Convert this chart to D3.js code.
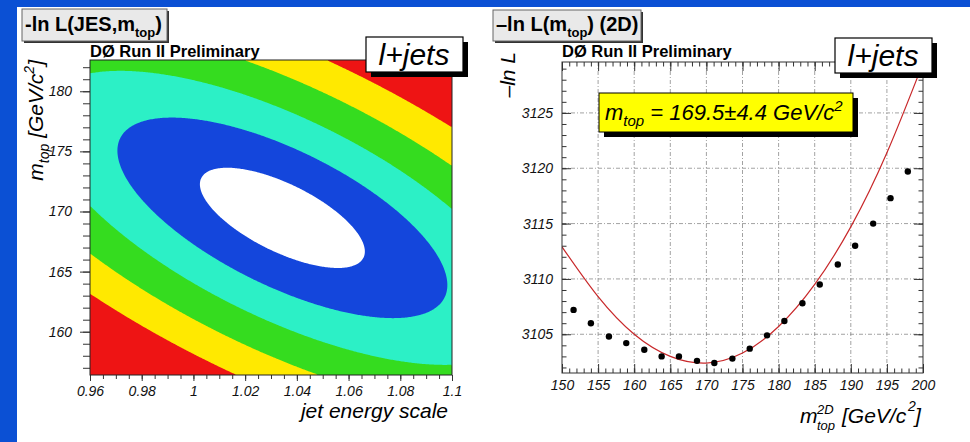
<!DOCTYPE html>
<html>
<head>
<meta charset="utf-8">
<script src="https://cdn.jsdelivr.net/npm/d3@7"></script>
<style>
body { margin: 0; background: #fff; }
svg { display: block; font-family: "Liberation Sans", Arial, sans-serif; }
.tk text { font-style: italic; font-size: 14px; font-family: "Liberation Sans", Arial, sans-serif; fill: #111; }
</style>
</head>
<body>
<script>
// ---- left panel: -ln L(JES, mtop) surface, parameters
const jesDomain = [0.96, 1.1];
const mtopDomain = [156.4, 182.6];
const jesTicks = [0.96, 0.98, 1, 1.02, 1.04, 1.06, 1.08, 1.1];
const mtopTicks = [160, 165, 170, 175, 180];
const surfCenter = [1.0344, 169.47];   // JES, mtop at the minimum
const surfSigma = [0.0319, 4.17];
const surfRho = -0.67;
const levels = [0.5, 2.0, 4.3, 7.4, 11.3];
const levelColors = ["#1446dc", "#2cf0c6", "#35dc1f", "#ffe900", "#ee1414"];

// ---- right panel: -ln L vs mtop(2D)
const massDomain = [150, 200];
const nllDomain = [3101.5, 3129.6];
const massTicks = [150, 155, 160, 165, 170, 175, 180, 185, 190, 195, 200];
const nllTicks = [3105, 3110, 3115, 3120, 3125];
const massPoints = [151.6, 154.0, 156.5, 158.9, 161.4, 163.8, 166.2, 168.7, 171.1, 173.6,
                    176.0, 178.4, 180.8, 183.3, 185.7, 188.2, 190.6, 193.1, 195.5, 197.9];
const nllPoints = [3107.2, 3106.0, 3104.8, 3104.2, 3103.6, 3103.0, 3103.0, 3102.6, 3102.4, 3102.8,
                   3103.7, 3104.9, 3106.2, 3107.8, 3109.5, 3111.3, 3113.0, 3115.0, 3117.3, 3119.7];
// fitted parabola, read at every 5 GeV
const fitMass = [150, 155, 160, 165, 170, 175, 180, 185, 190, 195, 200];
const fitNll = [3112.9, 3108.4, 3105.0, 3103.0, 3102.4, 3103.3, 3105.7, 3109.5, 3114.7, 3121.4, 3129.5];

const W = 970, H = 442;
const svg = d3.select("body").append("svg").attr("width", W).attr("height", H);

// slide background
svg.append("rect").attr("width", W).attr("height", H).attr("fill", "#fff");
svg.append("rect").attr("width", W).attr("height", 7).attr("fill", "#0b50d4");
svg.append("rect").attr("width", 17).attr("height", H).attr("fill", "#0b50d4");

function titleBox(x, y, w, h) {
    svg.append("rect").attr("x", x + 2).attr("y", y + 2).attr("width", w).attr("height", h).attr("fill", "#333");
    svg.append("rect").attr("x", x).attr("y", y).attr("width", w).attr("height", h)
        .attr("fill", "#e9e9e9").attr("stroke", "#666").attr("stroke-width", 1);
}
function jetsBox(x, y) {
    svg.append("rect").attr("x", x + 5).attr("y", y + 5).attr("width", 97).attr("height", 35).attr("fill", "#000");
    svg.append("rect").attr("x", x).attr("y", y).attr("width", 97).attr("height", 35)
        .attr("fill", "#fff").attr("stroke", "#000").attr("stroke-width", 1.2);
    svg.append("text").attr("x", x + 48).attr("y", y + 28).attr("text-anchor", "middle")
        .attr("font-size", 30).attr("font-style", "italic").text("l+jets");
}

// ================= left panel =================
const L = {left: 90, right: 452, top: 60, bottom: 375};
const xJ = d3.scaleLinear().domain(jesDomain).range([L.left, L.right]);
const yM = d3.scaleLinear().domain(mtopDomain).range([L.bottom, L.top]);

// surface on a grid, contoured by d3
const nx = 300, ny = 260;
const grid = new Array(nx * ny);
for (let j = 0; j < ny; j++) {
    for (let i = 0; i < nx; i++) {
        const jes = jesDomain[0] + (i + 0.5) / nx * (jesDomain[1] - jesDomain[0]);
        const m = mtopDomain[0] + (j + 0.5) / ny * (mtopDomain[1] - mtopDomain[0]);
        const u = (jes - surfCenter[0]) / surfSigma[0];
        const v = (m - surfCenter[1]) / surfSigma[1];
        grid[j * nx + i] = (u * u - 2 * surfRho * u * v + v * v) / (2 * (1 - surfRho * surfRho));
    }
}
const contours = d3.contours().size([nx, ny]).thresholds(levels)(grid);
const toPlot = d3.geoTransform({
    point: function(px, py) {
        this.stream.point(
            xJ(jesDomain[0] + px / nx * (jesDomain[1] - jesDomain[0])),
            yM(mtopDomain[0] + py / ny * (mtopDomain[1] - mtopDomain[0])));
    }
});
const cpath = d3.geoPath(toPlot);

svg.append("rect").attr("x", L.left).attr("y", L.top)
    .attr("width", L.right - L.left).attr("height", L.bottom - L.top).attr("fill", "#fff");
svg.append("g").selectAll("path")
    .data(contours)
    .enter()
    .append("path")
    .attr("d", cpath)
    .attr("fill-rule", "evenodd")
    .attr("fill", (d, i) => levelColors[i]);

// axes (ticks outside)
const fmtJ = d => String(+d.toFixed(2));
const minorJ = d3.range(0.96, 1.1001, 0.005).map(d => +d.toFixed(3));
svg.append("g").attr("transform", "translate(0," + L.bottom + ")")
    .call(d3.axisBottom(xJ).tickValues(minorJ).tickSize(4).tickFormat(""))
    .call(g => g.select(".domain").remove());
svg.append("g").attr("class", "tk").attr("transform", "translate(0," + L.bottom + ")")
    .call(d3.axisBottom(xJ).tickValues(jesTicks).tickSize(6).tickPadding(5).tickFormat(fmtJ))
    .call(g => g.select(".domain").remove());
const minorM = d3.range(157, 183, 1);
svg.append("g").attr("transform", "translate(" + L.left + ",0)")
    .call(d3.axisLeft(yM).tickValues(minorM).tickSize(7).tickFormat(""))
    .call(g => g.select(".domain").remove());
svg.append("g").attr("class", "tk").attr("transform", "translate(" + L.left + ",0)")
    .call(d3.axisLeft(yM).tickValues(mtopTicks).tickSize(10).tickPadding(8).tickFormat(d3.format("d")))
    .call(g => g.select(".domain").remove());
svg.append("rect").attr("x", L.left).attr("y", L.top)
    .attr("width", L.right - L.left).attr("height", L.bottom - L.top)
    .attr("fill", "none").attr("stroke", "#222").attr("stroke-width", 1);

// texts
titleBox(22, 9, 145, 32);
const t1 = svg.append("text").attr("x", 25).attr("y", 31).attr("font-size", 20).attr("font-weight", "bold");
t1.append("tspan").text("-ln L(JES,m");
t1.append("tspan").attr("dy", 6).attr("font-size", 13).text("top");
t1.append("tspan").attr("dy", -6).text(")");
svg.append("text").attr("x", 90).attr("y", 57).attr("font-size", 16.5).attr("font-weight", "bold")
    .text("DØ Run II Preliminary");
jetsBox(366, 37);
svg.append("text").attr("x", 448).attr("y", 418).attr("text-anchor", "end")
    .attr("font-size", 21).attr("font-style", "italic").text("jet energy scale");
const ylab = svg.append("text").attr("transform", "translate(43,60) rotate(-90)")
    .attr("text-anchor", "end").attr("font-size", 21).attr("font-style", "italic");
ylab.append("tspan").text("m");
ylab.append("tspan").attr("dy", 6).attr("font-size", 14).text("top");
ylab.append("tspan").attr("dy", -6).text(" [GeV/c");
ylab.append("tspan").attr("dy", -9).attr("font-size", 14).text("2");
ylab.append("tspan").attr("dy", 9).text("]");

// ================= right panel =================
const R = {left: 562, right: 923, top: 62, bottom: 373};
const xR = d3.scaleLinear().domain(massDomain).range([R.left, R.right]);
const yR = d3.scaleLinear().domain(nllDomain).range([R.bottom, R.top]);

// grid
const gridG = svg.append("g").attr("stroke", "#8a8a8a").attr("stroke-width", 0.8)
    .attr("stroke-dasharray", "4,2,1,2");
gridG.selectAll(".gx").data(massTicks.slice(1, -1)).enter().append("line")
    .attr("x1", d => xR(d)).attr("x2", d => xR(d)).attr("y1", R.top).attr("y2", R.bottom);
gridG.selectAll(".gy").data(nllTicks).enter().append("line")
    .attr("x1", R.left).attr("x2", R.right).attr("y1", d => yR(d)).attr("y2", d => yR(d));

// inside ticks on all sides
const minorMass = d3.range(150, 201, 1);
const minorNll = d3.range(3102, 3130, 1);
svg.append("g").attr("transform", "translate(0," + R.bottom + ")")
    .call(d3.axisBottom(xR).tickValues(minorMass).tickSize(-4.5).tickFormat(""))
    .call(g => g.select(".domain").remove());
svg.append("g").attr("class", "tk").attr("transform", "translate(0," + R.bottom + ")")
    .call(d3.axisBottom(xR).tickValues(massTicks).tickSize(-9).tickPadding(7).tickFormat(d3.format("d")))
    .call(g => g.select(".domain").remove());
svg.append("g").attr("transform", "translate(0," + R.top + ")")
    .call(d3.axisTop(xR).tickValues(minorMass).tickSize(-4.5).tickFormat(""))
    .call(g => g.select(".domain").remove());
svg.append("g").attr("transform", "translate(0," + R.top + ")")
    .call(d3.axisTop(xR).tickValues(massTicks).tickSize(-9).tickFormat(""))
    .call(g => g.select(".domain").remove());
svg.append("g").attr("transform", "translate(" + R.left + ",0)")
    .call(d3.axisLeft(yR).tickValues(minorNll).tickSize(-4.5).tickFormat(""))
    .call(g => g.select(".domain").remove());
svg.append("g").attr("class", "tk").attr("transform", "translate(" + R.left + ",0)")
    .call(d3.axisLeft(yR).tickValues(nllTicks).tickSize(-9).tickPadding(9).tickFormat(d3.format("d")))
    .call(g => g.select(".domain").remove());
svg.append("g").attr("transform", "translate(" + R.right + ",0)")
    .call(d3.axisRight(yR).tickValues(minorNll).tickSize(-4.5).tickFormat(""))
    .call(g => g.select(".domain").remove());
svg.append("g").attr("transform", "translate(" + R.right + ",0)")
    .call(d3.axisRight(yR).tickValues(nllTicks).tickSize(-9).tickFormat(""))
    .call(g => g.select(".domain").remove());

svg.selectAll("g.tick line").attr("stroke", "#333");

// fit curve
svg.append("clipPath").attr("id", "clipR").append("rect")
    .attr("x", R.left).attr("y", R.top).attr("width", R.right - R.left).attr("height", R.bottom - R.top);
const line = d3.line().x(d => xR(d[0])).y(d => yR(d[1])).curve(d3.curveNatural);
svg.append("path").attr("clip-path", "url(#clipR)")
    .attr("d", line(fitMass.map((m, i) => [m, fitNll[i]])))
    .attr("fill", "none").attr("stroke", "#c8282a").attr("stroke-width", 1.2);

// points
svg.append("g").selectAll("circle")
    .data(massPoints)
    .enter()
    .append("circle")
    .attr("cx", d => xR(d))
    .attr("cy", (d, i) => yR(nllPoints[i]))
    .attr("r", 3.2)
    .attr("fill", "#000");

svg.append("rect").attr("x", R.left).attr("y", R.top)
    .attr("width", R.right - R.left).attr("height", R.bottom - R.top)
    .attr("fill", "none").attr("stroke", "#333").attr("stroke-width", 1);

// result box
svg.append("rect").attr("x", 604).attr("y", 98).attr("width", 254).attr("height", 39).attr("fill", "#000");
svg.append("rect").attr("x", 599).attr("y", 93).attr("width", 254).attr("height", 39)
    .attr("fill", "#ffff00").attr("stroke", "#000").attr("stroke-width", 1);
const res = svg.append("text").attr("x", 605).attr("y", 120).attr("font-size", 22).attr("font-style", "italic");
res.append("tspan").text("m");
res.append("tspan").attr("dy", 6).attr("font-size", 15).text("top");
res.append("tspan").attr("dy", -6).text(" = 169.5±4.4 GeV/c");
res.append("tspan").attr("dy", -9).attr("font-size", 15).text("2");

// texts
titleBox(493, 10, 148, 31);
const t2 = svg.append("text").attr("x", 496).attr("y", 31).attr("font-size", 20).attr("font-weight", "bold");
t2.append("tspan").text("–ln L(m");
t2.append("tspan").attr("dy", 6).attr("font-size", 13).text("top");
t2.append("tspan").attr("dy", -6).text(") (2D)");
svg.append("text").attr("x", 562).attr("y", 57).attr("font-size", 16.5).attr("font-weight", "bold")
    .text("DØ Run II Preliminary");
jetsBox(835, 38);
svg.append("text").attr("transform", "translate(515,52) rotate(-90)")
    .attr("text-anchor", "end").attr("font-size", 21).attr("font-style", "italic").text("–ln L");
const xlab = svg.append("g").attr("font-style", "italic");
xlab.append("text").attr("x", 800).attr("y", 423).attr("font-size", 21).text("m");
xlab.append("text").attr("x", 817).attr("y", 414).attr("font-size", 13).text("2D");
xlab.append("text").attr("x", 817).attr("y", 430).attr("font-size", 13).text("top");
xlab.append("text").attr("x", 842).attr("y", 423).attr("font-size", 21).text("[GeV/c");
xlab.append("text").attr("x", 908).attr("y", 411).attr("font-size", 14).text("2");
xlab.append("text").attr("x", 915).attr("y", 423).attr("font-size", 21).text("]");
</script>
</body>
</html>
